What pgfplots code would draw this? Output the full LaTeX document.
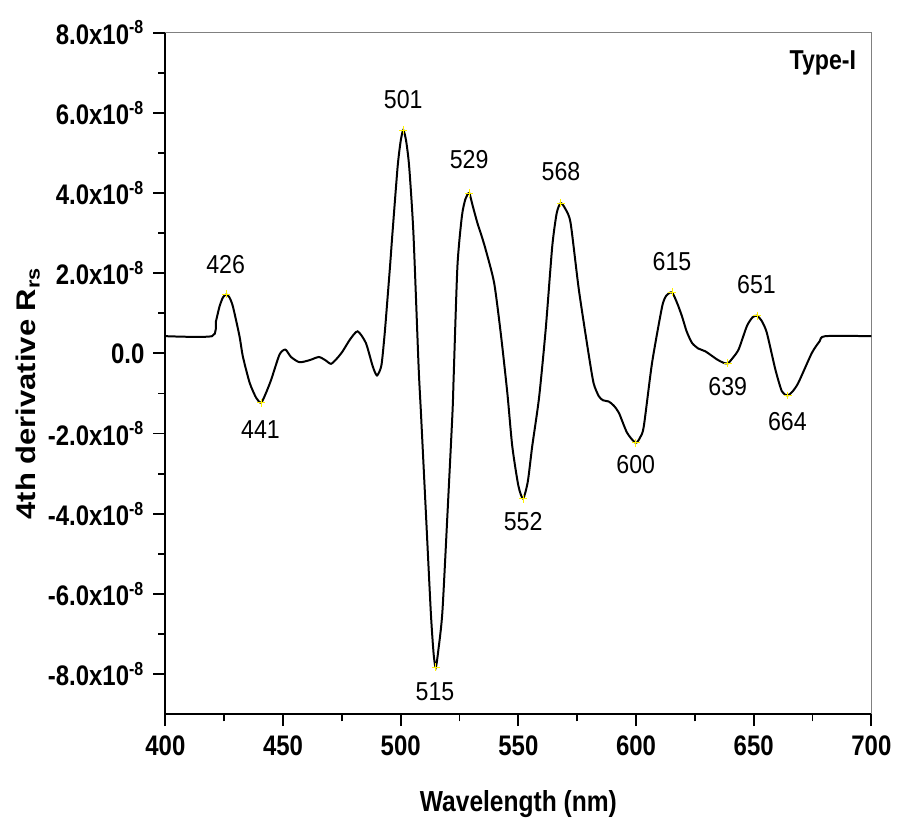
\documentclass[border=0pt]{standalone}
\usepackage{pgfplots}
\pgfplotsset{compat=1.18}
\usepackage{graphicx}
\usepackage{fontspec}
\setmainfont{Liberation Sans}
\newcommand{\pk}[1]{\scalebox{1}[1.12]{\fontsize{11.6}{13}\selectfont #1}}
\newcommand{\tl}[1]{\scalebox{1}[1.18]{#1}}
\newcommand{\yl}[1]{\tl{#1x10\textsuperscript{-8}}}
\begin{document}
\begin{tikzpicture}
\begin{axis}[
  name=main,
  scale only axis,
  width=353.7pt, height=341.5pt,
  xmin=400, xmax=700, ymin=-9, ymax=8,
  axis x line*=bottom, axis y line*=left,
  x axis line style={-, line width=1pt},
  y axis line style={-, line width=1pt},
  tick align=outside,
  major tick length=6pt, minor tick length=3.5pt,
  every tick/.style={black, line width=0.9pt},
  xtick={400,450,...,700},
  minor xtick={425,475,...,675},
  xticklabels={\tl{400},\tl{450},\tl{500},\tl{550},\tl{600},\tl{650},\tl{700}},
  ytick={-8,-6,...,8},
  minor ytick={-7,-5,...,7},
  yticklabels={\yl{-8.0},\yl{-6.0},\yl{-4.0},\yl{-2.0},\tl{0.0},\yl{2.0},\yl{4.0},\yl{6.0},\yl{8.0}},
  tick label style={font=\fontsize{12}{14}\selectfont\bfseries},
  xticklabel style={yshift=-1pt},
  yticklabel style={xshift=-1pt},
  xlabel={\tl{Wavelength (nm)}},
  ylabel={\scalebox{1.15}[1]{4th derivative R\textsubscript{rs}}},
  x label style={font=\fontsize{12.3}{15}\selectfont\bfseries, at={(axis description cs:0.5,0)}, anchor=center, yshift=-45.2pt},
  y label style={font=\fontsize{13.5}{15}\selectfont\bfseries, at={(axis description cs:-0.195,0.471)}, anchor=center},
  clip=false,
]
\draw[gray, line width=0.5pt] (rel axis cs:0,1) -- (rel axis cs:1,1) -- (rel axis cs:1,0);
\addplot[black, line width=1pt, smooth, tension=0.4] coordinates {
(400,0.43) (419.8,0.43) (421.5,0.8) (423,1.17) (424.5,1.4) (425.9,1.47) (427.2,1.4) (428.7,1.17)
(431.5,0.43) (432.9,-0.07) (435.8,-0.73) (438.6,-1.11) (440.7,-1.23) (442.8,-0.98)
(445,-0.65) (448.5,-0.03) (451,0.095) (453.4,-0.09) (457,-0.22) (461.2,-0.17) (465.2,-0.09)
(468,-0.17) (470.4,-0.26) (473,-0.12) (475.3,0.05) (478.5,0.35) (481.7,0.55) (485.2,0.26)
(488.1,-0.32) (489.9,-0.55) (491.8,-0.3) (493.2,0.5) (494.3,1.3) (495.5,2.2) (496.5,3.0)
(498.7,4.66) (500,5.3) (501.1,5.57) (502.3,5.3) (503.6,4.66) (505.4,3.0) (507.6,-0.32)
(508.6,-1.48) (510.7,-3.97) (512.8,-6.46) (514,-7.5) (514.9,-7.83) (516,-7.4) (517.7,-6.46)
(519.9,-3.97) (522,-1.48) (522.5,-0.6) (524.1,2.17) (526,3.42) (527.5,3.85) (529.1,4.0)
(530.5,3.7) (532.6,3.25) (534,3.0) (536.1,2.59) (539.7,1.76) (542.5,0.51) (545.3,-0.98)
(547.4,-2.31) (550,-3.3) (552,-3.62) (554,-3.2) (555.9,-2.31) (558.8,-1.1) (561.6,0.59)
(564.4,2.67) (566.3,3.5) (568,3.75) (570,3.6) (572.2,3.25) (575.7,1.59) (580,-0.07)
(582,-0.75) (584.2,-1.07) (586,-1.17) (588.4,-1.2) (590.5,-1.3) (592.7,-1.48) (596.2,-1.98)
(599.8,-2.23) (601.7,-2.1) (603.3,-1.82) (606.8,-0.24) (611.1,1.17) (613,1.45) (615.3,1.52)
(617.5,1.25) (619.5,0.93) (621.5,0.55) (623.8,0.26) (626.5,0.12) (629.5,0.05) (634.4,-0.15)
(637,-0.23) (639,-0.25) (641,-0.12) (643.6,0.1) (647.1,0.68) (649.5,0.9) (651.4,0.94)
(653.5,0.8) (655.6,0.51) (659.2,-0.4) (662,-0.95) (664.4,-1.05) (666.5,-0.95) (669,-0.73)
(674.7,0.01) (678,0.3) (680.4,0.43) (700,0.43)
};
\addplot[only marks, mark=+, mark size=2pt, yellow, mark options={line width=0.4pt}] coordinates {
(425.9,1.47) (440.7,-1.23) (501.1,5.57) (514.9,-7.83) (529.1,4.0) (552,-3.62) (568,3.75)
(599.8,-2.23) (615.3,1.52) (639,-0.25) (651.4,0.94) (664.4,-1.05)
};
\node at (axis cs:425.6,2.21) {\pk{426}};
\node at (axis cs:440.4,-1.9) {\pk{441}};
\node at (axis cs:501.1,6.32) {\pk{501}};
\node at (axis cs:514.6,-8.43) {\pk{515}};
\node at (axis cs:529.1,4.83) {\pk{529}};
\node at (axis cs:552,-4.19) {\pk{552}};
\node at (axis cs:568.1,4.53) {\pk{568}};
\node at (axis cs:599.9,-2.77) {\pk{600}};
\node at (axis cs:615.3,2.29) {\pk{615}};
\node at (axis cs:639,-0.82) {\pk{639}};
\node at (axis cs:651.2,1.71) {\pk{651}};
\node at (axis cs:664.3,-1.7) {\pk{664}};
\node[anchor=east, font=\fontsize{11.6}{14}\selectfont\bfseries] at (axis cs:696.5,7.24) {\tl{Type-I}};
\end{axis}
\path (main.south west) ++(-82.85pt,-55.15pt) coordinate (bbA);
\path (main.north east) ++(12.5pt,16.35pt) coordinate (bbB);
\path (bbA) rectangle (bbB);
\end{tikzpicture}
\end{document}
